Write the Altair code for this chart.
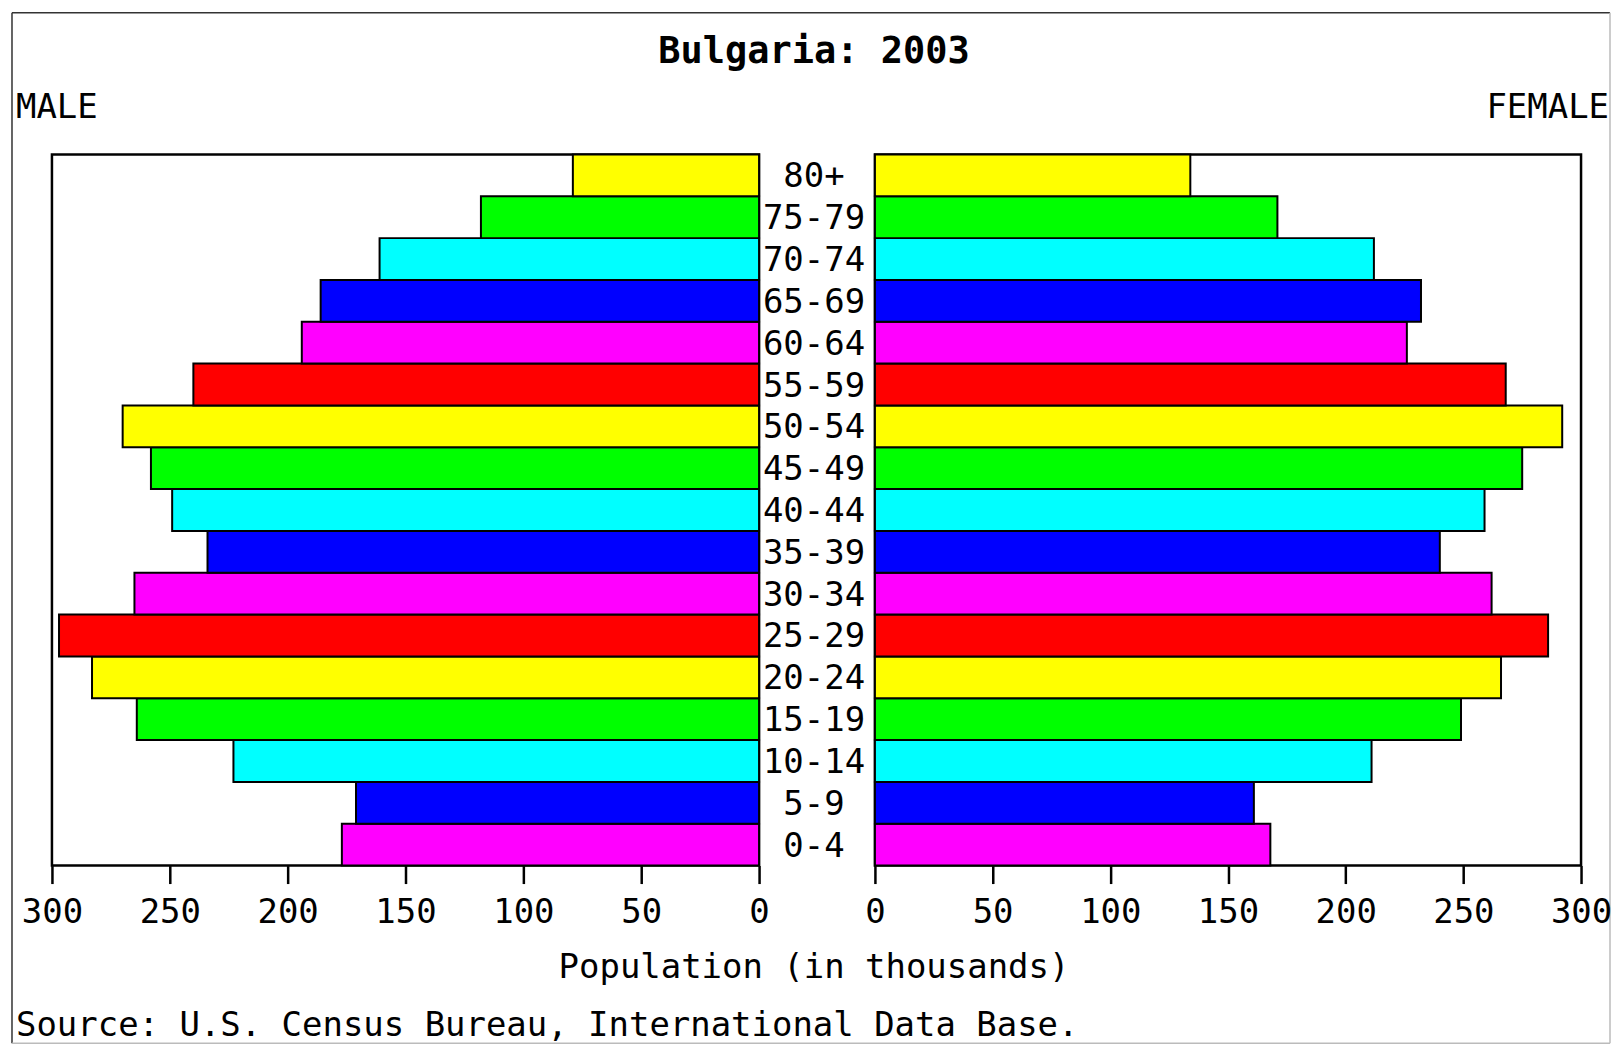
import altair as alt
import pandas as pd

# ---- data ----
ages = ["0-4", "5-9", "10-14", "15-19", "20-24", "25-29", "30-34", "35-39",
        "40-44", "45-49", "50-54", "55-59", "60-64", "65-69", "70-74", "75-79", "80+"]
male = [177, 171, 223, 264, 283, 297, 265, 234, 249, 258, 270, 240, 194, 186, 161, 118, 79]
female = [168, 161, 211, 249, 266, 286, 262, 240, 259, 275, 292, 268, 226, 232, 212, 171, 134]
bar_colors = ["#FF00FF", "#0000FF", "#00FFFF", "#00FF00", "#FFFF00", "#FF0000",
              "#FF00FF", "#0000FF", "#00FFFF", "#00FF00", "#FFFF00", "#FF0000",
              "#FF00FF", "#0000FF", "#00FFFF", "#00FF00", "#FFFF00"]
tick_values = [0, 50, 100, 150, 200, 250, 300]
title_text = "Bulgaria: 2003"
left_label = "MALE"
right_label = "FEMALE"
axis_title = "Population (in thousands)"
source_text = "Source: U.S. Census Bureau, International Data Base."

FONT = "DejaVu Sans Mono"
FS = 34

df = pd.DataFrame({"age": ages, "male": male, "female": female})

y_enc = alt.Y("age:N", sort=ages[::-1],
              scale=alt.Scale(paddingInner=0, paddingOuter=0), axis=None)
color_enc = alt.Color("age:N", scale=alt.Scale(domain=ages, range=bar_colors), legend=None)


def x_axis():
    return alt.Axis(values=tick_values, title=None, domain=False, grid=False,
                    tickColor="black", tickWidth=2.5, tickSize=18,
                    labelFont=FONT, labelFontSize=FS, labelColor="black",
                    labelPadding=12, labelFlush=False, labelOverlap=False, format="d")


panel_view = alt.ViewBackground(stroke="black", strokeWidth=2.5, fill="white")
one = alt.Data(values=[{}])

left_bars = alt.Chart(df).mark_bar(stroke="black", strokeWidth=2).encode(
    x=alt.X("male:Q", scale=alt.Scale(domain=[0, 300], reverse=True, nice=False), axis=x_axis()),
    y=y_enc,
    color=color_enc,
)

# outer picture frame (decoration)
FL, FR, FT, FB = -40, 1560, -142, 890
frame_top = alt.Chart(one).mark_rule(color="#333333", strokeWidth=1.5).encode(
    x=alt.value(FL), x2=alt.value(FR), y=alt.value(FT))
frame_left = alt.Chart(one).mark_rule(color="#333333", strokeWidth=1.5).encode(
    x=alt.value(FL), y=alt.value(FT), y2=alt.value(FB))
frame_right = alt.Chart(one).mark_rule(color="#bbbbbb", strokeWidth=1.5).encode(
    x=alt.value(FR), y=alt.value(FT), y2=alt.value(FB))
frame_bottom = alt.Chart(one).mark_rule(color="#bbbbbb", strokeWidth=1.5).encode(
    x=alt.value(FL), x2=alt.value(FR), y=alt.value(FB))

left = alt.layer(left_bars, frame_top, frame_left, frame_right, frame_bottom).properties(
    width=708, height=712, view=panel_view)

right = alt.Chart(df).mark_bar(stroke="black", strokeWidth=2).encode(
    x=alt.X("female:Q", scale=alt.Scale(domain=[0, 300], nice=False), axis=x_axis()),
    y=y_enc,
    color=color_enc,
).properties(width=707, height=712, view=panel_view)

age_text = alt.Chart(df).mark_text(font=FONT, fontSize=FS, baseline="middle", dy=2,
                                   color="black").encode(
    y=y_enc, x=alt.value(55), text="age:N")


def label(txt, x, y, align="center", bold=False, size=FS):
    return alt.Chart(one).mark_text(text=txt, font=FONT, fontSize=size, align=align,
                                    baseline="alphabetic", color="black",
                                    fontWeight="bold" if bold else "normal").encode(
        x=alt.value(x), y=alt.value(y))


mid = alt.layer(
    age_text,
    label(title_text, 55, -92, bold=True, size=37),
    label(left_label, -744, -37, align="left"),
    label(right_label, 851, -37, align="right"),
    label(axis_title, 55, 825),
    label(source_text, -744, 883, align="left"),
).properties(width=116, height=712,
             view=alt.ViewBackground(strokeWidth=0, fill="transparent"))

chart = alt.hconcat(left, mid, right, spacing=0, bounds="flush").properties(
    padding={"left": 2, "top": 2, "right": 0, "bottom": 0},
    background="white",
).configure_view(strokeWidth=0)

chart.save("out.html", embed_options={"renderer": "svg", "actions": False})
